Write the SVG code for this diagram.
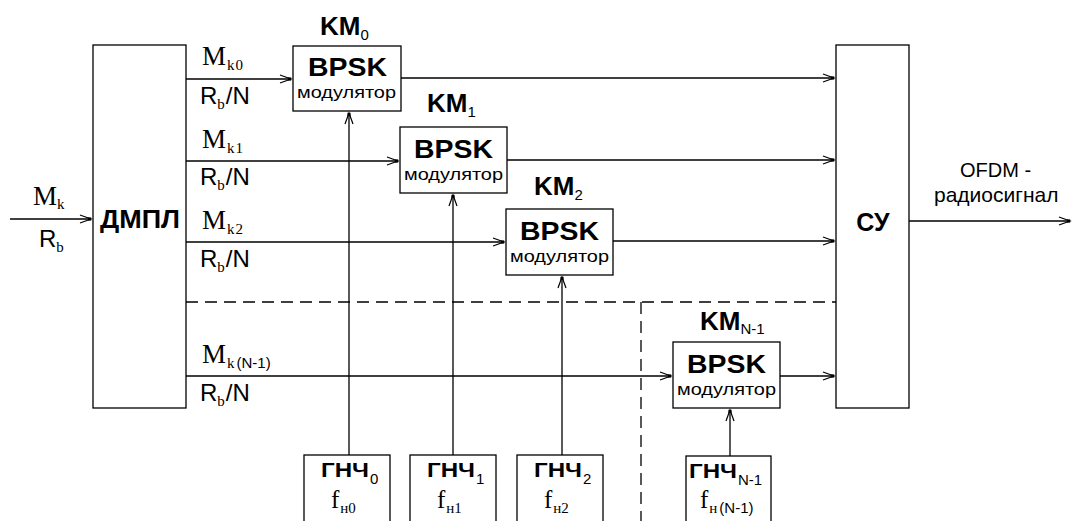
<svg xmlns="http://www.w3.org/2000/svg" width="1072" height="521" viewBox="0 0 1072 521">
<style>
.box{fill:#fff;stroke:#000;stroke-width:1.3}
.ln{fill:none;stroke:#000;stroke-width:1.3}
.dash{fill:none;stroke:#000;stroke-width:1.3;stroke-dasharray:12,7}
.ser{font-family:"Liberation Serif",serif;font-size:27px;fill:#000}
.sans{font-family:"Liberation Sans",Arial,sans-serif;font-size:24px;fill:#000}
.sub{font-size:15px}
.bold{font-family:"Liberation Sans",Arial,sans-serif;font-weight:bold;fill:#000}
.km{font-size:26px}
.bpsk{font-size:25px}
.mod{font-family:"Liberation Sans",Arial,sans-serif;font-size:17px;fill:#000}
.gn{font-size:20px}
.out{font-family:"Liberation Sans",Arial,sans-serif;fill:#000}
.fser{font-family:"Liberation Serif",serif;font-size:25px;fill:#000}
</style>
<defs>
<marker id="arr" markerUnits="userSpaceOnUse" viewBox="-12 -6 14 12" refX="0" refY="0" markerWidth="14" markerHeight="12" orient="auto">
<path d="M-11,-4 L0,0 L-11,4" fill="none" stroke="#000" stroke-width="1.2"/>
<rect x="-3" y="-1.6" width="3.2" height="3.2" fill="#000"/>
</marker>
</defs>

<g id="connectors">
<line class="ln" x1="10" y1="219" x2="91" y2="219" marker-end="url(#arr)"/>
<line class="ln" x1="186" y1="79" x2="291" y2="79" marker-end="url(#arr)"/>
<line class="ln" x1="401" y1="78" x2="834" y2="78" marker-end="url(#arr)"/>
<line class="ln" x1="186" y1="161" x2="398" y2="161" marker-end="url(#arr)"/>
<line class="ln" x1="507" y1="160" x2="834" y2="160" marker-end="url(#arr)"/>
<line class="ln" x1="186" y1="242" x2="504" y2="242" marker-end="url(#arr)"/>
<line class="ln" x1="613" y1="241" x2="834" y2="241" marker-end="url(#arr)"/>
<line class="ln" x1="186" y1="376" x2="671" y2="376" marker-end="url(#arr)"/>
<line class="ln" x1="780" y1="376" x2="834" y2="376" marker-end="url(#arr)"/>
<line class="ln" x1="909" y1="221" x2="1070" y2="221" marker-end="url(#arr)"/>
<line class="ln" x1="349" y1="455" x2="349" y2="113" marker-end="url(#arr)"/>
<line class="ln" x1="453" y1="455" x2="453" y2="195" marker-end="url(#arr)"/>
<line class="ln" x1="562" y1="455" x2="562" y2="277" marker-end="url(#arr)"/>
<line class="ln" x1="730" y1="456" x2="730" y2="410" marker-end="url(#arr)"/>
<path class="dash" d="M186,302 H836"/>
<path class="dash" d="M641,302 V521"/>
</g>

<g id="input-label">
<text class="ser" x="33" y="205">M<tspan class="sub" dy="4">k</tspan></text>
<text class="sans" x="39" y="247">R<tspan class="ser sub" dy="5">b</tspan></text>
</g>

<g id="dmpl">
<rect class="box" x="93" y="45" width="93" height="363"/>
<text class="bold" x="100" y="228" font-size="26" textLength="80" lengthAdjust="spacingAndGlyphs">ДМПЛ</text>
</g>

<g id="ch-labels">
<text class="ser" x="202" y="65">M<tspan class="sub" dx="1" dy="5" letter-spacing="1">k0</tspan></text>
<text class="sans" x="200" y="104">R<tspan class="ser sub" dy="5">b</tspan><tspan dx="1" dy="-5">/N</tspan></text>
<text class="ser" x="202" y="148">M<tspan class="sub" dx="1" dy="5" letter-spacing="1">k1</tspan></text>
<text class="sans" x="200" y="185">R<tspan class="ser sub" dy="5">b</tspan><tspan dx="1" dy="-5">/N</tspan></text>
<text class="ser" x="202" y="229">M<tspan class="sub" dx="1" dy="5" letter-spacing="1">k2</tspan></text>
<text class="sans" x="200" y="267">R<tspan class="ser sub" dy="5">b</tspan><tspan dx="1" dy="-5">/N</tspan></text>
<text class="ser" x="202" y="363">M<tspan class="sub" dx="1" dy="5">k</tspan><tspan class="sans sub" dx="2">(N-1)</tspan></text>
<text class="sans" x="200" y="401">R<tspan class="ser sub" dy="5">b</tspan><tspan dx="1" dy="-5">/N</tspan></text>
</g>

<g id="km0">
<text class="bold km" x="320" y="35">KM<tspan class="sub" font-weight="normal" dy="5">0</tspan></text>
<rect class="box" x="293" y="46" width="108" height="65"/>
<text class="bold bpsk" x="308" y="76" textLength="79" lengthAdjust="spacingAndGlyphs">BPSK</text>
<text class="mod" x="297" y="98" textLength="99" lengthAdjust="spacingAndGlyphs">модулятор</text>
</g>

<g id="km1">
<text class="bold km" x="427" y="112">KM<tspan class="sub" font-weight="normal" dy="5">1</tspan></text>
<rect class="box" x="400" y="127" width="107" height="66"/>
<text class="bold bpsk" x="414" y="158" textLength="79" lengthAdjust="spacingAndGlyphs">BPSK</text>
<text class="mod" x="404" y="180" textLength="99" lengthAdjust="spacingAndGlyphs">модулятор</text>
</g>

<g id="km2">
<text class="bold km" x="534" y="195">KM<tspan class="sub" font-weight="normal" dy="5">2</tspan></text>
<rect class="box" x="506" y="209" width="107" height="66"/>
<text class="bold bpsk" x="520" y="240" textLength="79" lengthAdjust="spacingAndGlyphs">BPSK</text>
<text class="mod" x="510" y="262" textLength="99" lengthAdjust="spacingAndGlyphs">модулятор</text>
</g>

<g id="kmN1">
<text class="bold km" x="700" y="330">KM<tspan class="sub" font-weight="normal" dy="4">N-1</tspan></text>
<rect class="box" x="673" y="342" width="107" height="66"/>
<text class="bold bpsk" x="687" y="373" textLength="79" lengthAdjust="spacingAndGlyphs">BPSK</text>
<text class="mod" x="677" y="395" textLength="99" lengthAdjust="spacingAndGlyphs">модулятор</text>
</g>

<g id="su">
<rect class="box" x="836" y="45" width="73" height="363"/>
<text class="bold" x="873" y="231" font-size="25" text-anchor="middle">СУ</text>
</g>

<g id="out-label">
<text class="out" x="960" y="177" font-size="20">OFDM -</text>
<text class="out" x="934" y="202" font-size="21">радиосигнал</text>
</g>

<g id="gnch0">
<rect class="box" x="304" y="455" width="86" height="80"/>
<text class="bold gn" x="321" y="477" textLength="48" lengthAdjust="spacingAndGlyphs">ГНЧ</text>
<text class="sans sub" x="370" y="484">0</text>
<text class="fser" x="331" y="508">f<tspan class="sub" dx="1" dy="5">н0</tspan></text>
</g>

<g id="gnch1">
<rect class="box" x="410" y="455" width="86" height="80"/>
<text class="bold gn" x="427" y="477" textLength="48" lengthAdjust="spacingAndGlyphs">ГНЧ</text>
<text class="sans sub" x="476" y="484">1</text>
<text class="fser" x="437" y="508">f<tspan class="sub" dx="1" dy="5">н1</tspan></text>
</g>

<g id="gnch2">
<rect class="box" x="517" y="455" width="86" height="80"/>
<text class="bold gn" x="534" y="477" textLength="48" lengthAdjust="spacingAndGlyphs">ГНЧ</text>
<text class="sans sub" x="583" y="484">2</text>
<text class="fser" x="544" y="508">f<tspan class="sub" dx="1" dy="5">н2</tspan></text>
</g>

<g id="gnchN1">
<rect class="box" x="686" y="456" width="85" height="80"/>
<text class="bold gn" x="689" y="478" textLength="48" lengthAdjust="spacingAndGlyphs">ГНЧ</text>
<text class="sans sub" x="738" y="485">N-1</text>
<text class="fser" x="700" y="508">f<tspan class="sub" dx="1" dy="5">н</tspan><tspan class="sans sub" dx="2">(N-1)</tspan></text>
</g>
</svg>
